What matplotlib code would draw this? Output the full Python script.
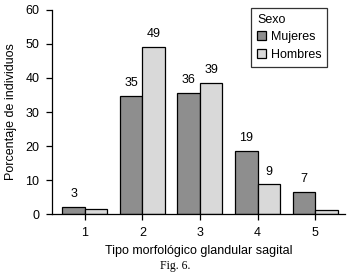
import numpy as np
import matplotlib
matplotlib.use("Agg")
import matplotlib.pyplot as plt

plt.rcParams['font.family'] = ['Liberation Sans', 'DejaVu Sans']

tipos = [1, 2, 3, 4, 5]
mujeres = [2.1, 34.7, 35.5, 18.6, 6.4]
hombres = [1.4, 49.2, 38.6, 8.7, 1.1]
etiq_mujeres = ["3", "35", "36", "19", "7"]
etiq_hombres = ["", "49", "39", "9", ""]

fs = 9

fig = plt.figure(figsize=(3.5, 2.76), dpi=100)
ax = fig.add_axes([0.1486, 0.2246, 0.8371, 0.7392])

x = np.array(tipos, dtype=float)
w = 0.39
b1 = ax.bar(x - w / 2, mujeres, w, color="#8e8e8e", edgecolor="black",
            linewidth=0.9, label="Mujeres")
b2 = ax.bar(x + w / 2, hombres, w, color="#d9d9d9", edgecolor="black",
            linewidth=0.9, label="Hombres")

for rect, t in zip(b1, etiq_mujeres):
    if t:
        ax.text(rect.get_x() + rect.get_width() / 2, rect.get_height() + 2.0, t,
                ha="center", va="bottom", fontsize=fs)
for rect, t in zip(b2, etiq_hombres):
    if t:
        ax.text(rect.get_x() + rect.get_width() / 2, rect.get_height() + 2.0, t,
                ha="center", va="bottom", fontsize=fs)

ax.set_xlim(0.43, 5.52)
ax.set_ylim(0, 60)
ax.set_xticks(tipos)
ax.set_yticks([0, 10, 20, 30, 40, 50, 60])
ax.tick_params(labelsize=fs, length=4, width=0.9, pad=5)
ax.spines['top'].set_visible(False)
ax.spines['right'].set_visible(False)
ax.spines['left'].set_linewidth(0.9)
ax.spines['bottom'].set_linewidth(0.9)

ax.set_xlabel("Tipo morfológico glandular sagital", fontsize=fs, labelpad=5)
ax.set_ylabel("Porcentaje de individuos", fontsize=fs, labelpad=6)

leg = ax.legend(title="Sexo", loc="upper right",
                bbox_to_anchor=(327 / 350, 1 - 8 / 276),
                bbox_transform=fig.transFigure,
                fontsize=fs, title_fontsize=fs, frameon=True, fancybox=False,
                edgecolor="black", handlelength=0.75, handleheight=0.75,
                handletextpad=0.35, borderpad=0.45, labelspacing=0.45,
                borderaxespad=0)
leg._legend_box.align = "left"
leg.get_frame().set_linewidth(0.9)

fig.text(0.5, 1 - 266 / 276, "Fig. 6.", ha="center", va="center", fontsize=8.5,
         family="Liberation Serif")

fig.savefig("out.png", dpi=100)
